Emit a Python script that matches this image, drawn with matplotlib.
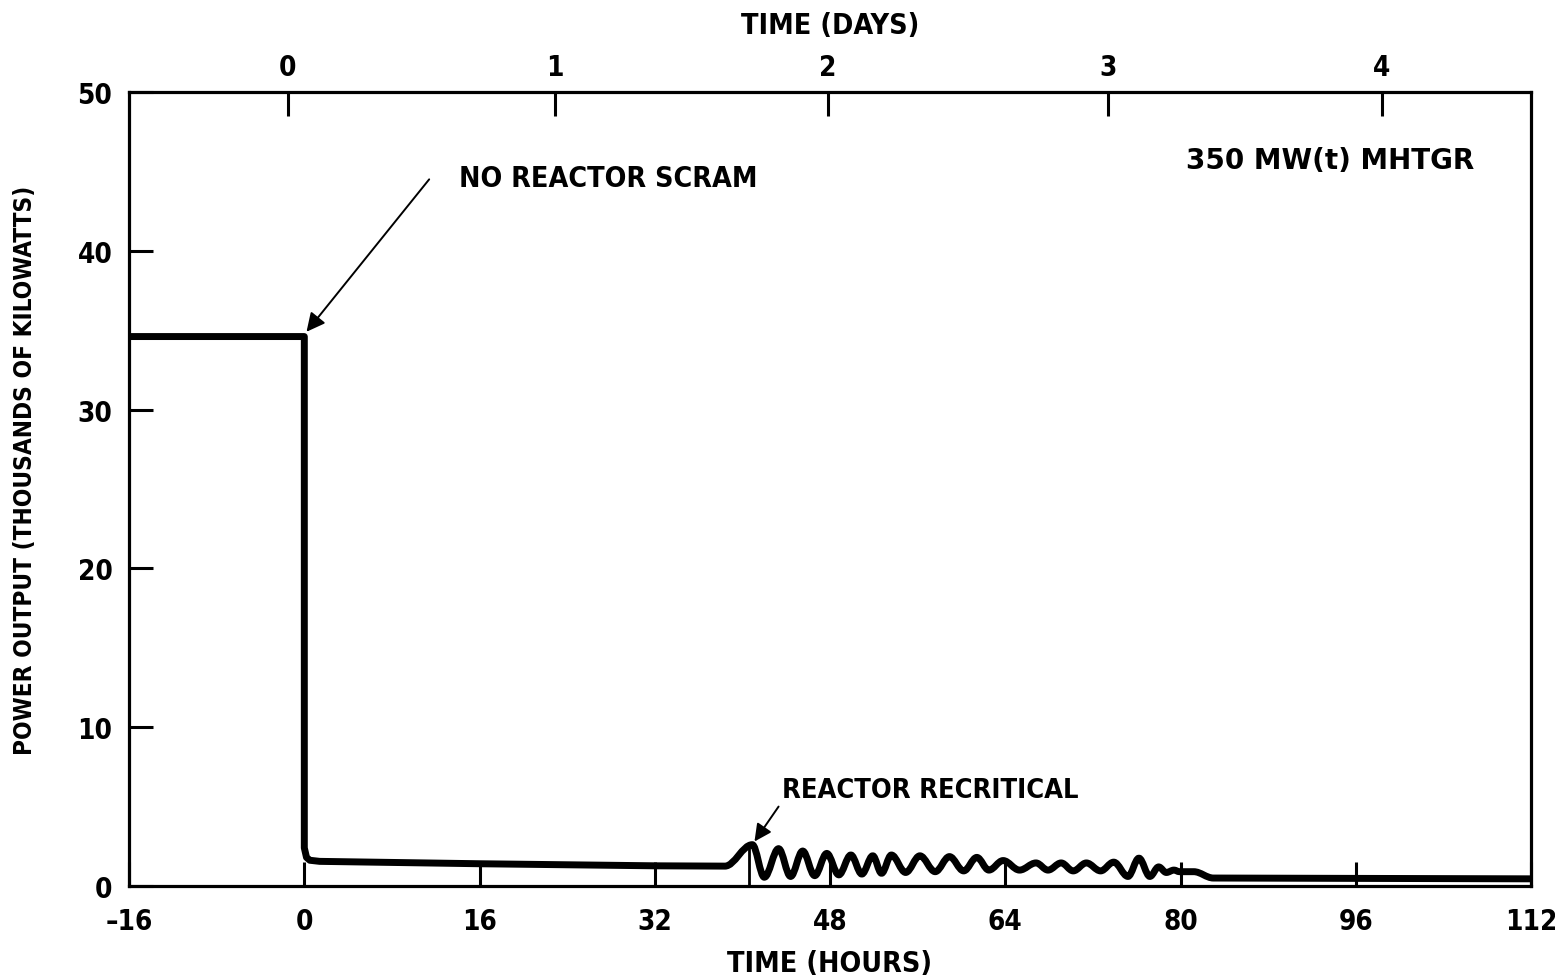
import matplotlib
matplotlib.use("Agg")
import matplotlib.pyplot as plt
from matplotlib.path import Path
from matplotlib.patches import PathPatch

# Reactor power before and just after the loss of forced cooling (hours, thousands of kW)
pre_hours = [-16.0, 0.0, 0.0, 0.2, 0.5, 1.4, 16.0, 32.0, 38.4]
pre_power = [34.6, 34.6, 2.4, 1.8, 1.62, 1.55, 1.4, 1.27, 1.25]

# Recriticality oscillations: alternating peak / trough points
osc_hours = [40.9, 42.0, 43.3, 44.4, 45.5, 46.6, 47.7, 48.8, 49.9, 50.9,
             51.9, 52.7, 53.6, 54.9, 56.2, 57.6, 58.9, 60.2, 61.4, 62.5,
             63.8, 65.3, 66.8, 67.9, 69.1, 70.2, 71.4, 72.7, 73.9, 75.2,
             76.2, 77.2, 78.0, 78.7, 79.4, 79.9, 81.2, 83.0]
osc_power = [2.6, 0.55, 2.35, 0.6, 2.2, 0.65, 2.05, 0.7, 1.95, 0.75,
             1.9, 0.8, 1.95, 0.85, 1.9, 0.9, 1.85, 0.95, 1.8, 1.0,
             1.6, 1.0, 1.45, 1.0, 1.45, 0.95, 1.45, 0.95, 1.5, 0.6,
             1.75, 0.6, 1.2, 0.85, 1.0, 0.9, 0.9, 0.5]

# Long-term level after the oscillations die out
tail_hours = [112.0]
tail_power = [0.45]

hour_ticks = [-16, 0, 16, 32, 48, 64, 80, 96, 112]
hour_labels = ["\u201316", "0", "16", "32", "48", "64", "80", "96", "112"]
power_ticks = [0, 10, 20, 30, 40, 50]
day_tick_hours = [-1.5, 22.9, 47.8, 73.4, 98.4]
day_labels = ["0", "1", "2", "3", "4"]

recrit_hours = 40.6
recrit_power = 2.5

plt.rcParams["font.family"] = ["DejaVu Sans"]
plt.rcParams["font.stretch"] = "condensed"
plt.rcParams["font.weight"] = "bold"
plt.rcParams["axes.labelweight"] = "bold"

fig = plt.figure(figsize=(15.55, 9.79), dpi=100)
ax = fig.add_axes([0.083, 0.094, 0.9016, 0.811])
ax.set_xlim(-16, 112)
ax.set_ylim(0, 50)

# build the trace: straight pieces, then smooth humps between the extremes
verts = [(pre_hours[0], pre_power[0])]
codes = [Path.MOVETO]
for t, p in zip(pre_hours[1:], pre_power[1:]):
    verts.append((t, p))
    codes.append(Path.LINETO)
x0, y0 = verts[-1]
for t, p in zip(osc_hours, osc_power):
    dx = (t - x0) * 0.36
    verts += [(x0 + dx, y0), (t - dx, p), (t, p)]
    codes += [Path.CURVE4] * 3
    x0, y0 = t, p
for t, p in zip(tail_hours, tail_power):
    verts.append((t, p))
    codes.append(Path.LINETO)

trace = PathPatch(Path(verts, codes), fill=False, lw=5.0, edgecolor="black",
                  capstyle="round", joinstyle="round", zorder=3)
ax.add_patch(trace)
ax.vlines(recrit_hours, 0, recrit_power, color="black", lw=2.0, zorder=2)

for s in ax.spines.values():
    s.set_linewidth(2.3)

ax.set_xticks(hour_ticks)
ax.set_xticklabels(hour_labels)
ax.set_yticks(power_ticks)
ax.tick_params(axis="both", direction="in", length=17, width=2.2,
               labelsize=20, right=False, top=False)
ax.tick_params(axis="x", pad=15)
ax.tick_params(axis="y", pad=12)

ax2 = ax.twiny()
ax2.set_xlim(ax.get_xlim())
ax2.set_xticks(day_tick_hours)
ax2.set_xticklabels(day_labels)
ax2.tick_params(axis="x", direction="in", length=17, width=2.2,
                labelsize=20, pad=8)

ax.set_xlabel("TIME (HOURS)", fontsize=20.5, labelpad=10)
ax2.set_xlabel("TIME (DAYS)", fontsize=20.5, labelpad=14)
ax.set_ylabel("POWER OUTPUT (THOUSANDS OF KILOWATTS)", fontsize=17.5)
ax.yaxis.set_label_coords(-0.0656, 0.525)

ax.annotate("", xy=(0.2, 34.9), xytext=(11.4, 44.5),
            arrowprops=dict(arrowstyle="-|>", color="black", lw=1.4,
                            mutation_scale=28, shrinkA=0, shrinkB=0))
ax.text(14.1, 44.6, "NO REACTOR SCRAM", fontsize=20.5, va="center", ha="left")
ax.annotate("", xy=(41.1, 2.8), xytext=(43.3, 5.0),
            arrowprops=dict(arrowstyle="-|>", color="black", lw=1.4,
                            mutation_scale=26, shrinkA=0, shrinkB=0))
ax.text(43.6, 6.05, "REACTOR RECRITICAL", fontsize=19.5, va="center", ha="left")
ax.text(80.5, 45.7, "350 MW(t) MHTGR", fontsize=20, fontstretch="normal",
        fontweight="bold", ha="left", va="center")

fig.savefig("out.png", dpi=100)
